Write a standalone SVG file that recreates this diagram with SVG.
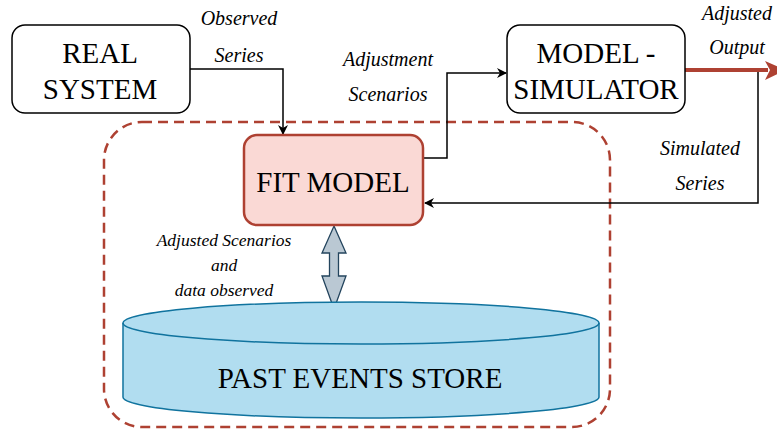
<svg xmlns="http://www.w3.org/2000/svg" width="777" height="434" viewBox="0 0 777 434">
<style>
.box{fill:#fff;stroke:#000;stroke-width:1.5}
.big{font-family:"Liberation Serif",serif;font-size:29px;fill:#000;text-anchor:middle}
.lbl{font-family:"Liberation Serif",serif;font-style:italic;font-size:20px;fill:#000;text-anchor:middle}
.sm{font-family:"Liberation Serif",serif;font-style:italic;font-size:17.5px;fill:#000;text-anchor:middle}
.wire{fill:none;stroke:#000;stroke-width:1.5}
</style>
<defs>
<marker id="ah" viewBox="0 0 10 10" refX="9" refY="5" markerWidth="10" markerHeight="10" markerUnits="userSpaceOnUse" orient="auto">
<path d="M0,0 L10,5 L0,10 L3,5 Z" fill="#000"/>
</marker>
</defs>
<g id="boundary">
<rect x="104" y="122" width="506" height="305" rx="38" fill="none" stroke="#ae4132" stroke-width="2.5" stroke-dasharray="10 6"/>
</g>
<g id="connectors">
<path class="wire" d="M190,69 H283 V134" marker-end="url(#ah)"/>
<path class="wire" d="M424,158 H447 V73 H506" marker-end="url(#ah)"/>
<path class="wire" d="M758,72 V203 H425" marker-end="url(#ah)"/>
<path d="M685,70 H768" stroke="#ae4132" stroke-width="4" fill="none"/>
<path d="M765,61 L786,70 L765,80 L770,70 Z" fill="#ae4132"/>
<path d="M334,226 L346,253 L338.5,253 L338.5,276 L346,276 L334,309 L322,276 L329.5,276 L329.5,253 L322,253 Z" fill="#bac8d3" stroke="#23445d" stroke-width="1.3"/>
</g>
<g id="labels">
<text class="lbl" x="239" y="25">Observed</text>
<text class="lbl" x="239" y="62">Series</text>
<text class="lbl" x="388" y="66">Adjustment</text>
<text class="lbl" x="388" y="101">Scenarios</text>
<text class="lbl" x="737" y="20">Adjusted</text>
<text class="lbl" x="737" y="54">Output</text>
<text class="lbl" x="700" y="155">Simulated</text>
<text class="lbl" x="700" y="190">Series</text>
<text class="sm" x="224" y="246">Adjusted Scenarios</text>
<text class="sm" x="224" y="271">and</text>
<text class="sm" x="224" y="296">data observed</text>
</g>
<g id="real-system">
<rect class="box" x="12" y="25" width="178" height="88" rx="13"/>
<text class="big" x="100" y="63">REAL</text>
<text class="big" x="100" y="99">SYSTEM</text>
</g>
<g id="model-simulator">
<rect class="box" x="507" y="25" width="178" height="88" rx="13"/>
<text class="big" x="596" y="63">MODEL -</text>
<text class="big" x="596" y="99">SIMULATOR</text>
</g>
<g id="fit-model">
<rect x="244" y="135" width="179" height="90" rx="13" fill="#fad9d5" stroke="#ae4132" stroke-width="2.5"/>
<text class="big" x="333" y="192">FIT MODEL</text>
</g>
<g id="past-events-store">
<path d="M123,323 A238,21 0 0 1 599,323 V397 A238,21 0 0 1 123,397 Z" fill="#b1ddf0" stroke="#10739e" stroke-width="1.5"/>
<path d="M123,323 A238,21 0 0 0 599,323" fill="none" stroke="#10739e" stroke-width="1.5"/>
<text class="big" x="360" y="388" style="font-size:29px">PAST EVENTS STORE</text>
</g>
</svg>
